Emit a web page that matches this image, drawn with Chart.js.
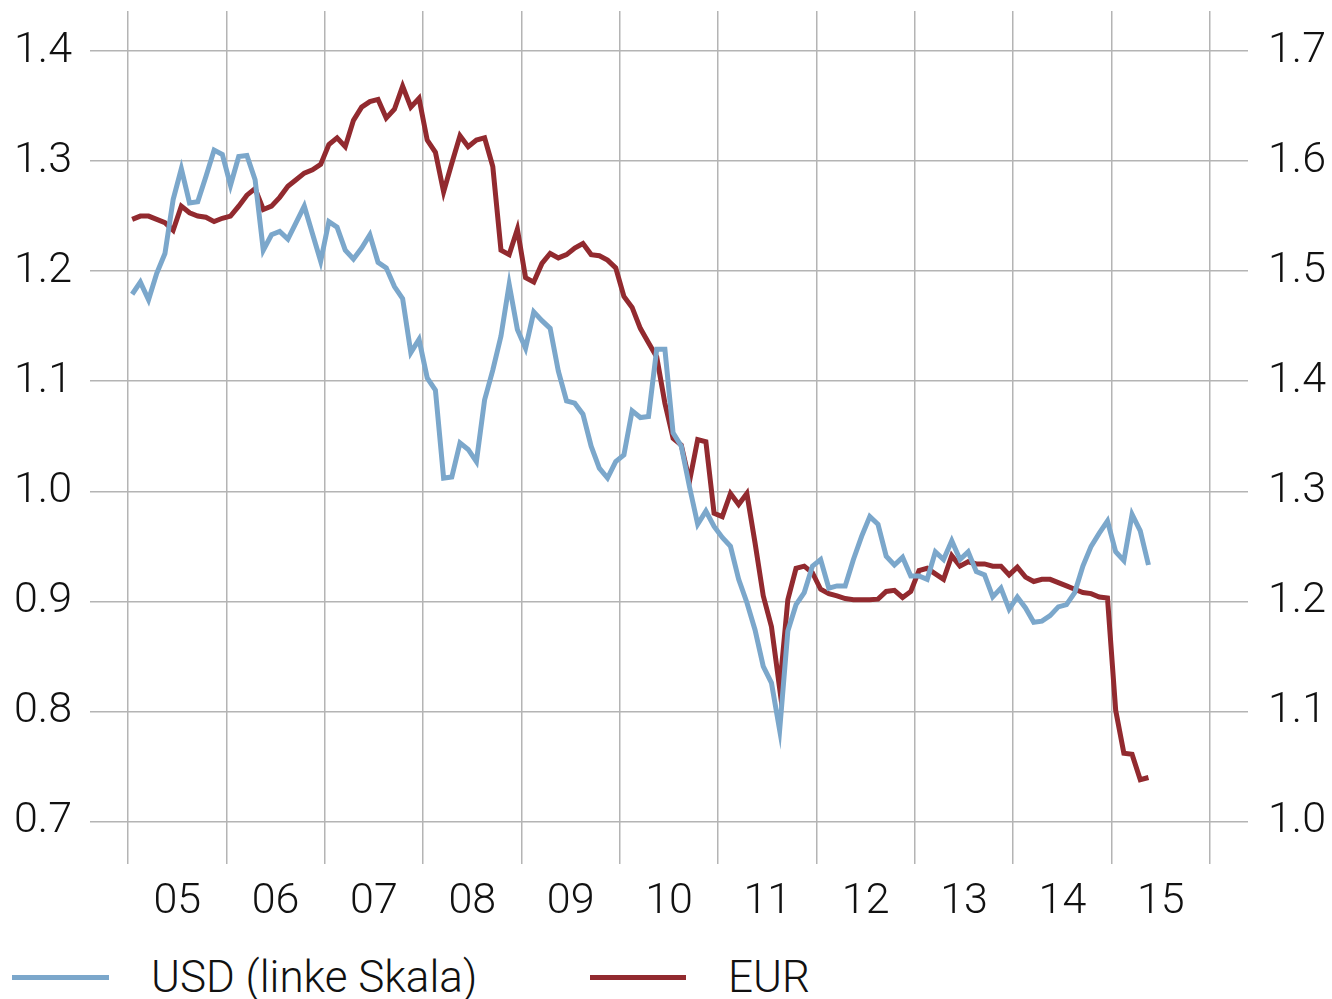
<!DOCTYPE html>
<html>
<head>
<meta charset="utf-8">
<script src="https://cdn.jsdelivr.net/npm/chart.js@4.4.1/dist/chart.umd.min.js"></script>
<style>
  html, body { margin: 0; padding: 0; background: #ffffff; }
  body { width: 1332px; height: 999px; position: relative; overflow: hidden; font-family: Roboto, "Liberation Sans", sans-serif; font-weight: 300; }
  #wrap { position: absolute; left: 0; top: 0; width: 1332px; height: 940px; }
  .lg-line { position: absolute; height: 5px; }
  .lg-text { position: absolute; font-size: 44px; line-height: 50px; color: #111111; white-space: nowrap; }
</style>
</head>
<body>
<div id="wrap"><canvas id="c" width="1332" height="940"></canvas></div>
<div class="lg-line" style="left:12px; top:975px; width:97px; background:#7ba7cb;"></div>
<div class="lg-text" style="left:151px; top:952px;">USD (linke Skala)</div>
<div class="lg-line" style="left:590px; top:975px; width:96px; background:#922a2f;"></div>
<div class="lg-text" style="left:728px; top:952px;">EUR</div>
<script>
// ---- data (monthly, starting January 2005) ----
const startYear = 2005;
const usd = [
  1.179,1.190,1.174,1.198,1.216,1.265,1.293,1.262,1.263,1.286,1.310,1.306,
  1.278,1.304,1.305,1.283,1.219,1.233,1.236,1.229,1.244,1.259,1.234,1.209,
  1.245,1.240,1.219,1.211,1.221,1.233,1.208,1.203,1.186,1.175,1.126,1.138,
  1.103,1.092,1.012,1.013,1.044,1.038,1.027,1.083,1.110,1.141,1.188,1.147,
  1.130,1.163,1.155,1.148,1.109,1.082,1.080,1.070,1.041,1.021,1.012,1.027,
  1.033,1.073,1.067,1.068,1.129,1.129,1.053,1.041,1.004,0.970,0.982,0.968,
  0.958,0.950,0.920,0.899,0.874,0.841,0.826,0.783,0.873,0.897,0.908,0.932,
  0.938,0.912,0.914,0.914,0.938,0.959,0.977,0.970,0.941,0.933,0.940,0.923,
  0.923,0.920,0.945,0.938,0.955,0.938,0.945,0.927,0.924,0.904,0.912,0.893,
  0.904,0.894,0.881,0.882,0.887,0.895,0.897,0.908,0.932,0.950,0.962,0.973,
  0.945,0.937,0.979,0.964,0.933
];
const eur = [
  1.547,1.550,1.550,1.547,1.544,1.537,1.559,1.553,1.550,1.549,1.545,1.548,
  1.550,1.559,1.569,1.575,1.556,1.559,1.567,1.577,1.583,1.589,1.592,1.597,
  1.615,1.621,1.613,1.637,1.649,1.654,1.656,1.639,1.647,1.668,1.649,1.657,
  1.619,1.608,1.572,1.598,1.623,1.613,1.619,1.621,1.595,1.519,1.515,1.538,
  1.494,1.490,1.507,1.516,1.512,1.515,1.521,1.525,1.515,1.514,1.510,1.503,
  1.477,1.467,1.448,1.435,1.422,1.380,1.348,1.342,1.309,1.347,1.345,1.280,
  1.277,1.298,1.288,1.298,1.253,1.205,1.177,1.121,1.2015,1.230,1.232,1.226,
  1.211,1.207,1.205,1.2025,1.2015,1.2015,1.2015,1.202,1.209,1.210,1.2035,1.209,
  1.228,1.230,1.225,1.220,1.2415,1.232,1.236,1.234,1.234,1.232,1.232,1.224,
  1.231,1.222,1.218,1.220,1.220,1.217,1.214,1.211,1.208,1.207,1.204,1.203,
  1.101,1.062,1.061,1.038,1.040
];
const yearGrid = [2005,2006,2007,2008,2009,2010,2011,2012,2013,2014,2015,2016];
const yearLabels = ['05','06','07','08','09','10','11','12','13','14','15'];
const usdTicks = [0.7,0.8,0.9,1.0,1.1,1.2,1.3,1.4];
const eurTicks = [1.0,1.1,1.2,1.3,1.4,1.5,1.6,1.7];

// month -> decimal year (mid-month)
const monthX = i => startYear + (i + 0.5) / 12;
const usdPts = usd.map((v, i) => ({ x: monthX(i), y: v }));
const eurPts = eur.map((v, i) => ({ x: monthX(i), y: v }));

const labelTicks = yearLabels.map((_, i) => yearGrid[i] + 0.5);
const labelMap = {};
yearLabels.forEach((l, i) => { labelMap[(yearGrid[i] + 0.5).toFixed(1)] = l; });

const X_MIN = 2004.613, X_MAX = 2016.387;
const Y_MIN = 0.6614, Y_MAX = 1.4363, EUR_SHIFT = 0.3;
const GRID = '#b4b4b4';
const FONT = { family: 'Roboto, "Liberation Sans", sans-serif', size: 43, weight: 300 };
const TXT = '#111111';
const noPad = s => { s.paddingTop = 0; s.paddingBottom = 0; s.paddingLeft = 0; s.paddingRight = 0; };

new Chart(document.getElementById('c'), {
  type: 'line',
  data: {
    datasets: [
      { label: 'USD (linke Skala)', data: usdPts, borderColor: '#7ba7cb', borderWidth: 5, yAxisID: 'y', xAxisID: 'x', pointRadius: 0, tension: 0, fill: false },
      { label: 'EUR', data: eurPts, borderColor: '#922a2f', borderWidth: 5, yAxisID: 'y2', xAxisID: 'x', pointRadius: 0, tension: 0, fill: false }
    ]
  },
  options: {
    responsive: false,
    animation: false,
    devicePixelRatio: 1,
    layout: { padding: { top: 11, left: 0, right: 0, bottom: 0 } },
    plugins: { legend: { display: false }, tooltip: { enabled: false } },
    scales: {
      x: {
        type: 'linear', position: 'bottom', min: X_MIN, max: X_MAX,
        afterBuildTicks: s => { s.ticks = yearGrid.concat(labelTicks).sort((a, b) => a - b).map(v => ({ value: v })); },
        afterFit: s => { s.height = 76; noPad(s); },
        border: { display: false },
        grid: {
          drawTicks: false, lineWidth: 1.5,
          color: ctx => (ctx.tick && Number.isInteger(ctx.tick.value)) ? GRID : 'rgba(0,0,0,0)'
        },
        ticks: {
          autoSkip: false, maxRotation: 0, minRotation: 0, padding: 12, color: TXT, font: FONT,
          callback: v => labelMap[Number(v).toFixed(1)] || ''
        }
      },
      y: {
        position: 'left', min: Y_MIN, max: Y_MAX,
        afterBuildTicks: s => { s.ticks = usdTicks.map(v => ({ value: v })); },
        afterFit: s => { s.width = 90; noPad(s); },
        border: { display: false },
        grid: { color: GRID, lineWidth: 1.5, drawTicks: false },
        ticks: { padding: 18, color: TXT, font: FONT, callback: v => Number(v).toFixed(1) }
      },
      y2: {
        position: 'right', min: Y_MIN + EUR_SHIFT, max: Y_MAX + EUR_SHIFT,
        afterBuildTicks: s => { s.ticks = eurTicks.map(v => ({ value: v })); },
        afterFit: s => { s.width = 84; noPad(s); },
        border: { display: false },
        grid: { display: false, drawTicks: false },
        ticks: { padding: 20, color: TXT, font: FONT, callback: v => Number(v).toFixed(1) }
      }
    }
  }
});
</script>
</body>
</html>
